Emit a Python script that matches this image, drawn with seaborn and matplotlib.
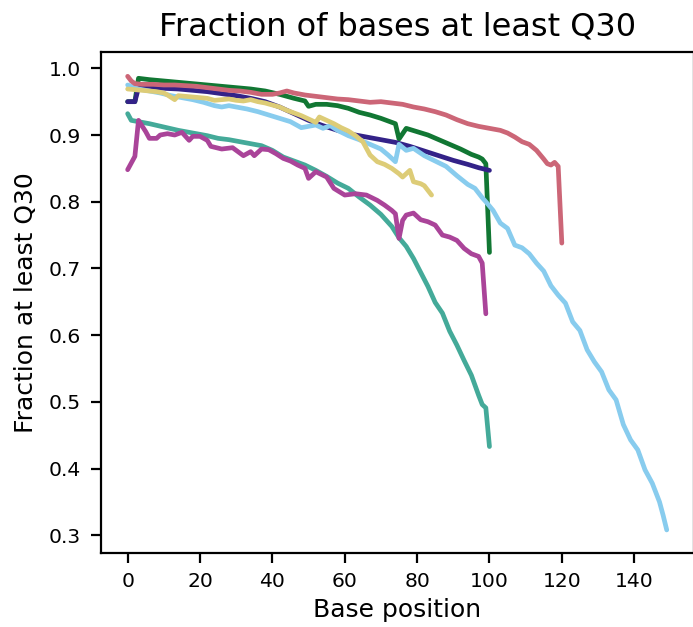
import seaborn as sns
import matplotlib.pyplot as plt

# per-sample Q30 fraction along the read
rose_x = [0, 1, 2, 4, 7, 10, 13, 16, 19, 22, 25, 28, 31, 34, 37, 40, 42, 44, 46, 49, 52, 55, 58, 61, 64, 67,
          70, 73, 76, 79, 82, 85, 88, 91, 94, 97, 100, 103, 105, 107, 109, 111, 113, 115, 116, 117, 118, 119, 120]
rose_y = [0.988, 0.981, 0.977, 0.976, 0.976, 0.975, 0.975, 0.974, 0.973, 0.971, 0.969, 0.967, 0.966, 0.964,
          0.961, 0.961, 0.963, 0.966, 0.963, 0.960, 0.958, 0.956, 0.954, 0.953, 0.951, 0.949, 0.950, 0.948,
          0.946, 0.942, 0.939, 0.935, 0.930, 0.923, 0.917, 0.913, 0.910, 0.907, 0.903, 0.897, 0.890, 0.886,
          0.877, 0.864, 0.857, 0.855, 0.859, 0.853, 0.738]

green_x = [0, 2, 3, 6, 10, 14, 18, 22, 26, 30, 34, 38, 42, 46, 49, 50, 52, 55, 58, 61, 64, 67, 70, 73, 74,
           75, 77, 80, 83, 86, 89, 92, 95, 97, 98, 99, 100]
green_y = [0.950, 0.950, 0.985, 0.983, 0.981, 0.979, 0.977, 0.975, 0.973, 0.971, 0.969, 0.966, 0.961, 0.955,
           0.951, 0.943, 0.946, 0.946, 0.944, 0.940, 0.934, 0.930, 0.925, 0.919, 0.917, 0.894, 0.910, 0.905,
           0.900, 0.893, 0.886, 0.879, 0.871, 0.867, 0.864, 0.857, 0.724]

indigo_x = [0, 2, 3, 6, 10, 14, 18, 22, 26, 30, 34, 38, 42, 46, 50, 54, 58, 62, 66, 70, 74, 78, 82, 86, 90,
            94, 97, 100]
indigo_y = [0.950, 0.950, 0.971, 0.971, 0.970, 0.969, 0.967, 0.965, 0.962, 0.959, 0.955, 0.950, 0.942, 0.932,
            0.922, 0.914, 0.907, 0.901, 0.897, 0.893, 0.889, 0.883, 0.876, 0.869, 0.862, 0.856, 0.851, 0.847]

cyan_x = [0, 3, 6, 9, 12, 15, 18, 21, 24, 26, 28, 30, 33, 36, 39, 42, 45, 48, 50, 52, 54, 56, 58, 61, 64,
          67, 70, 72, 74, 75, 77, 79, 82, 85, 88, 91, 94, 96, 98, 99, 101, 103, 105, 107, 109, 111, 113, 115,
          117, 119, 121, 123, 125, 127, 129, 131, 133, 135, 137, 139, 141, 143, 145, 147, 148, 149]
cyan_y = [0.975, 0.969, 0.966, 0.963, 0.959, 0.956, 0.953, 0.949, 0.944, 0.942, 0.944, 0.942, 0.939, 0.935,
          0.930, 0.925, 0.920, 0.911, 0.913, 0.915, 0.910, 0.914, 0.907, 0.899, 0.893, 0.886, 0.879, 0.870,
          0.860, 0.886, 0.877, 0.880, 0.869, 0.861, 0.853, 0.839, 0.826, 0.820, 0.806, 0.800, 0.787, 0.768,
          0.760, 0.735, 0.731, 0.722, 0.708, 0.696, 0.674, 0.660, 0.648, 0.620, 0.607, 0.578, 0.560, 0.545,
          0.518, 0.503, 0.466, 0.443, 0.428, 0.398, 0.378, 0.350, 0.330, 0.308]

sand_x = [0, 2, 4, 6, 8, 10, 11, 13, 14, 16, 18, 20, 22, 24, 26, 28, 30, 32, 34, 36, 38, 40, 42, 44, 46, 48,
          50, 52, 53, 55, 57, 59, 61, 63, 65, 67, 69, 71, 73, 75, 76, 78, 79, 81, 82, 84]
sand_y = [0.969, 0.968, 0.967, 0.966, 0.965, 0.963, 0.960, 0.953, 0.959, 0.958, 0.957, 0.956, 0.955, 0.952,
          0.953, 0.954, 0.952, 0.951, 0.953, 0.950, 0.948, 0.945, 0.942, 0.937, 0.933, 0.929, 0.924, 0.919,
          0.927, 0.922, 0.917, 0.911, 0.906, 0.899, 0.890, 0.870, 0.860, 0.856, 0.850, 0.842, 0.837, 0.847,
          0.830, 0.827, 0.824, 0.810]

teal_x = [0, 1, 3, 6, 10, 14, 18, 22, 25, 28, 31, 34, 37, 40, 43, 46, 49, 52, 55, 58, 61, 64, 67, 70, 73,
          75, 77, 79, 81, 83, 85, 87, 89, 91, 93, 95, 97, 98, 99, 100]
teal_y = [0.932, 0.922, 0.920, 0.917, 0.912, 0.907, 0.903, 0.899, 0.895, 0.893, 0.890, 0.887, 0.884, 0.877,
          0.867, 0.861, 0.855, 0.847, 0.838, 0.828, 0.820, 0.807, 0.795, 0.781, 0.763, 0.746, 0.733, 0.715,
          0.694, 0.673, 0.649, 0.633, 0.606, 0.585, 0.562, 0.540, 0.510, 0.496, 0.491, 0.433]

purple_x = [0, 2, 3, 5, 6, 8, 9, 11, 13, 15, 17, 18, 20, 22, 23, 26, 29, 32, 34, 35, 37, 39, 41, 43, 45, 47,
            49, 50, 52, 55, 57, 60, 63, 66, 69, 71, 73, 74, 75, 76, 77, 79, 81, 83, 85, 87, 89, 91, 93, 95,
            97, 98, 99]
purple_y = [0.848, 0.868, 0.922, 0.905, 0.895, 0.895, 0.900, 0.902, 0.900, 0.904, 0.892, 0.898, 0.898, 0.892,
            0.883, 0.879, 0.881, 0.869, 0.875, 0.869, 0.879, 0.878, 0.872, 0.865, 0.861, 0.855, 0.850, 0.835,
            0.845, 0.837, 0.820, 0.810, 0.812, 0.810, 0.802, 0.795, 0.787, 0.782, 0.745, 0.772, 0.780, 0.783,
            0.773, 0.770, 0.765, 0.750, 0.747, 0.742, 0.730, 0.722, 0.718, 0.708, 0.632]

sns.set_style('ticks', {'axes.edgecolor': 'black', 'text.color': 'black', 'axes.labelcolor': 'black',
                        'xtick.color': 'black', 'ytick.color': 'black'})
plt.rcParams['font.family'] = ['DejaVu Sans']

fig = plt.figure(figsize=(3.465, 3.135), dpi=200)
ax = fig.add_axes([0.1453, 0.118, 0.8557, 0.7987])

series = [
    (green_x, green_y, '#117733'),
    (indigo_x, indigo_y, '#332288'),
    (cyan_x, cyan_y, '#88CCEE'),
    (sand_x, sand_y, '#DDCC77'),
    (rose_x, rose_y, '#CC6677'),
    (teal_x, teal_y, '#44AA99'),
    (purple_x, purple_y, '#AA4499'),
]
for xs, ys, c in series:
    sns.lineplot(x=xs, y=ys, color=c, linewidth=1.7, ax=ax)

ax.set_xlim(-7.45, 156.45)
ax.set_ylim(0.2734, 1.0241)
ax.set_xticks(range(0, 141, 20))
ax.set_yticks([0.3, 0.4, 0.5, 0.6, 0.7, 0.8, 0.9, 1.0])
ax.tick_params(labelsize=7.3, length=3.5, width=0.8)
for s in ax.spines.values():
    s.set_linewidth(0.8)

ax.set_title('Fraction of bases at least Q30', fontsize=11.5)
ax.set_xlabel('Base position', fontsize=9.0, labelpad=2.5)
ax.set_ylabel('Fraction at least Q30', fontsize=9.0)

fig.savefig('out.png', dpi=200)
